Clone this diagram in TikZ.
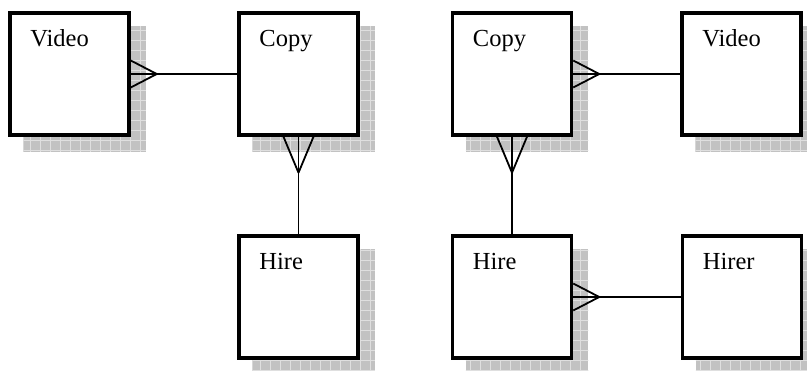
\documentclass[tikz,border=0pt]{standalone}
\usepackage{fontspec}
\setmainfont{Liberation Serif}
\usetikzlibrary{calc,backgrounds,positioning}
\tikzset{
    entity/.style = {draw, rectangle, line width=3.5pt, fill=white,
        minimum width=119pt, minimum height=122pt, inner sep=0pt,
        label={[elabel]north west:#1}},
    elabel/.style = {anchor=base west, inner sep=0pt, xshift=22pt, yshift=-35pt,
        font=\fontsize{24.5}{28}\selectfont},
    rel/.style = {draw, line width=1.8pt},
    shadowfill/.style = {fill=gray!48},
    shadowgrid/.style = {draw=gray!25, line width=0.7pt}
}
\def\footright{%
    -- +(-26,-13.5) +(0,0) -- +(-26,13.5)
}
\def\footdown{%
    -- +(-15,-36) +(0,0) -- +(15,-36)
}
\begin{document}
\begin{tikzpicture}[x=1pt, y=-1pt]
    \useasboundingbox (0,0) rectangle (807,371);
    \node [entity=Video] (vidA) at (69.5,74) {};
    \node [entity=Copy, right of=vidA, node distance=229pt] (copyA) {};
    \node [entity=Hire, below of=copyA, node distance=223pt] (hireA) {};
    \node [entity=Copy] (copyB) at (512,74) {};
    \node [entity=Video, right of=copyB, node distance=229.5pt] (vidB) {};
    \node [entity=Hire, below of=copyB, node distance=223pt] (hireB) {};
    \node [entity=Hirer, right of=hireB, node distance=230pt] (hirer) {};
    \begin{scope}[on background layer]
        \foreach \n in {vidA,copyA,hireA,copyB,vidB,hireB,hirer}{
            \begin{scope}
                \clip ($(\n.north west)+(15,15)$) rectangle ($(\n.south east)+(15,15)$);
                \fill [shadowfill] ($(\n.north west)+(15,15)$) rectangle ($(\n.south east)+(15,15)$);
                \draw [shadowgrid, step=10pt] ($(\n.north west)+(10,10)$) grid ($(\n.south east)+(20,20)$);
            \end{scope}
        }
    \end{scope}
    % left diagram
    \coordinate (cfA) at ($(vidA.east)+(26,0)$);
    \draw [rel] (vidA.east) -- (copyA.west);
    \draw [rel] (cfA) \footright;
    \coordinate (cfB) at ($(copyA.south)+(0,36)$);
    \draw [rel] (copyA.south) -- (copyA.south |- hireA.north);
    \draw [rel] (cfB) \footdown;
    % right diagram
    \coordinate (cfC) at ($(copyB.east)+(26,0)$);
    \draw [rel] (copyB.east) -- (vidB.west);
    \draw [rel] (cfC) \footright;
    \coordinate (cfD) at ($(copyB.south)+(0,36)$);
    \draw [rel] (copyB.south) -- (hireB.north);
    \draw [rel] (cfD) \footdown;
    \coordinate (cfE) at ($(hireB.east)+(26,0)$);
    \draw [rel] (hireB.east) -- (hirer.west);
    \draw [rel] (cfE) \footright;
\end{tikzpicture}
\end{document}
